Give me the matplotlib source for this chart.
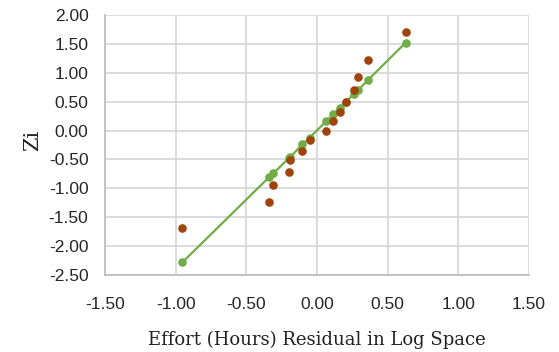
import matplotlib
matplotlib.use("Agg")
import matplotlib.pyplot as plt

# Residuals (x) sorted
residuals = [-0.952, -0.34, -0.309, -0.196, -0.19, -0.104, -0.05, 0.064,
             0.115, 0.163, 0.205, 0.264, 0.29, 0.363, 0.627]
# Observed Zi (orange)
zi_observed = [-1.69, -1.23, -0.94, -0.71, -0.51, -0.35, -0.16, 0.0,
               0.16, 0.33, 0.50, 0.70, 0.93, 1.22, 1.70]
# Fitted line Zi (green)
zi_fitted = [-2.28, -0.81, -0.74, -0.47, -0.46, -0.24, -0.12, 0.16,
             0.28, 0.40, 0.50, 0.64, 0.70, 0.88, 1.52]

x_ticks = [-1.5, -1.0, -0.5, 0.0, 0.5, 1.0, 1.5]
y_ticks = [-2.5, -2.0, -1.5, -1.0, -0.5, 0.0, 0.5, 1.0, 1.5, 2.0]

fig = plt.figure(figsize=(5.59, 3.52), dpi=100)
ax = fig.add_axes([0.188, 0.219, 0.758, 0.738])

green = "#70AD47"
orange = "#A0440E"

ax.plot(residuals, zi_fitted, color=green, lw=1.6, marker="o", ms=6.2,
        markeredgewidth=0, zorder=3)
ax.plot(residuals, zi_observed, linestyle="none", color=orange, marker="o",
        ms=6.2, markeredgewidth=0, zorder=4)

ax.set_xlim(-1.5, 1.5)
ax.set_ylim(-2.5, 2.0)
ax.set_xticks(x_ticks)
ax.set_yticks(y_ticks)
ax.set_xticklabels([f"{v:.2f}" for v in x_ticks])
ax.set_yticklabels([f"{v:.2f}" for v in y_ticks])
ax.grid(True, color="#d9d9d9", lw=1.3)
ax.set_axisbelow(True)
for s in ["top", "right"]:
    ax.spines[s].set_visible(False)
for s in ["left", "bottom"]:
    ax.spines[s].set_color("#bfbfbf")
    ax.spines[s].set_linewidth(1.3)
ax.tick_params(axis="x", length=0, labelsize=12.5, pad=16, labelcolor="#262626")
ax.tick_params(axis="y", length=0, labelsize=12.5, pad=12, labelcolor="#262626")
for lab in ax.get_xticklabels() + ax.get_yticklabels():
    lab.set_fontfamily("Liberation Sans")

ax.set_xlabel("Effort (Hours) Residual in Log Space", fontfamily="DejaVu Serif",
              fontsize=13, color="#222222", va="top")
ax.xaxis.set_label_coords(0.499, -0.215)
ax.set_ylabel("Zi", fontfamily="DejaVu Serif", fontsize=15, color="#222222",
              va="center")
ax.yaxis.set_label_coords(-0.172, 0.519)

fig.savefig("out.png", dpi=100)
